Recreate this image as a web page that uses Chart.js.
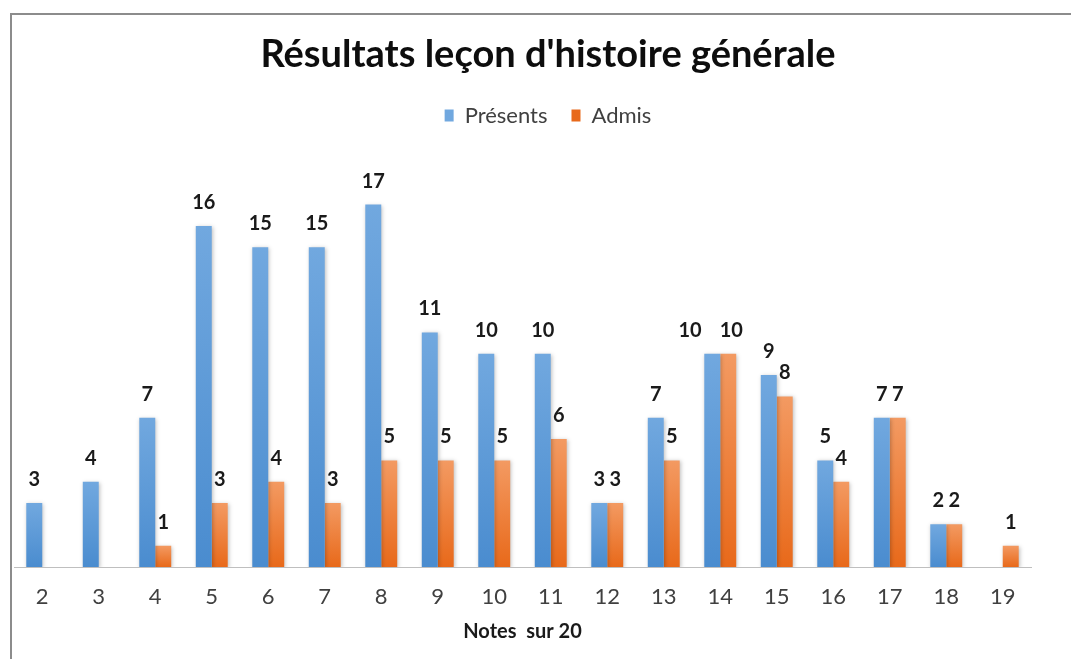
<!DOCTYPE html>
<html>
<head>
<meta charset="utf-8">
<script src="https://cdn.jsdelivr.net/npm/chart.js@4"></script>
<style>
  html, body { margin: 0; padding: 0; background: #fff; overflow: hidden; }
  #frame {
    position: absolute; left: 10px; top: 13px;
    width: 1090px; height: 646px;
    border-top: 2px solid #8c8c8c; border-left: 2px solid #8c8c8c;
    box-sizing: border-box;
  }
  #wrap { position: absolute; left: 0; top: 0; width: 1072px; height: 644px; }
</style>
</head>
<body>
<div id="frame"><div id="wrap"><canvas id="chart"></canvas></div></div>
<script>
// ---------- données ----------
const notes = ['2', '3', '4', '5', '6', '7', '8', '9', '10', '11', '12', '13', '14', '15', '16', '17', '18', '19'];
const presents = [3, 4, 7, 16, 15, 15, 17, 11, 10, 10, 3, 7, 10, 9, 5, 7, 2, null];
const admis = [null, null, 1, 3, 4, 3, 5, 5, 5, 6, 3, 5, 10, 8, 4, 7, 2, 1];

const FONT = 'Lato, "Open Sans", sans-serif';

// dégradé par barre (clair en haut, foncé en bas)
function barGradient(top, bottom) {
  return function (ctx) {
    const chart = ctx.chart;
    if (!chart.chartArea || ctx.raw == null) return bottom;
    const y = chart.scales.y;
    const y0 = y.getPixelForValue(ctx.raw);
    const y1 = y.getPixelForValue(0);
    const g = chart.ctx.createLinearGradient(0, y0, 0, y1);
    g.addColorStop(0, top);
    g.addColorStop(1, bottom);
    return g;
  };
}

// étiquettes de valeurs au-dessus des barres
const valueLabels = {
  id: 'valueLabels',
  afterDatasetsDraw(chart) {
    const ctx = chart.ctx;
    ctx.save();
    ctx.font = 'bold 20px ' + FONT;
    ctx.fillStyle = '#1a1a1a';
    ctx.textAlign = 'center';
    ctx.textBaseline = 'alphabetic';
    const m0 = chart.getDatasetMeta(0).data;
    const m1 = chart.getDatasetMeta(1).data;
    notes.forEach((n, j) => {
      const a = presents[j];
      const b = admis[j];
      let xa = m0[j].x;
      let xb = m1[j].x;
      // si les deux étiquettes se chevauchent vraiment, on les écarte
      if (a != null && b != null && Math.abs(m0[j].y - m1[j].y) < 18) {
        const wa = ctx.measureText(a).width;
        const wb = ctx.measureText(b).width;
        if (xb - xa < wa / 2 + wb / 2 + 2) {
          xb += 3;
          xa = xb - (wa / 2 + wb / 2 + 18);
        }
      }
      if (a != null) ctx.fillText(a, xa, m0[j].y - 17);
      if (b != null) ctx.fillText(b, xb, m1[j].y - 17);
    });
    ctx.restore();
  },
};

// légère ombre sous les barres
const barShadow = {
  id: 'barShadow',
  beforeDatasetsDraw(chart) {
    const ctx = chart.ctx;
    ctx.save();
    ctx.shadowColor = 'rgba(0,0,0,0.25)';
    ctx.shadowBlur = 4;
    ctx.shadowOffsetX = 1;
    ctx.shadowOffsetY = 1;
  },
  afterDatasetsDraw(chart) {
    chart.ctx.restore();
  },
};

// un peu plus d'espace sous la légende
const legendMargin = {
  id: 'legendMargin',
  beforeInit(chart) {
    const fit = chart.legend.fit;
    chart.legend.fit = function () {
      fit.call(this);
      this.height += 4;
    };
  },
};

const config = {
  type: 'bar',
  data: {
    labels: notes,
    datasets: [
      {
        label: 'Présents',
        data: presents,
        backgroundColor: barGradient('#71a8df', '#4a8ccf'),
        borderWidth: 0,
      },
      {
        label: 'Admis',
        data: admis,
        backgroundColor: barGradient('#f39a62', '#e8691a'),
        borderWidth: 0,
      },
    ],
  },
  options: {
    responsive: true,
    maintainAspectRatio: false,
    animation: false,
    layout: { padding: { left: 2, right: 2, top: 0, bottom: 0 } },
    datasets: {
      bar: { categoryPercentage: 0.565, barPercentage: 1 },
    },
    scales: {
      x: {
        grid: { display: false, drawTicks: false },
        border: { display: true, color: '#bfbfbf', width: 1 },
        ticks: { color: '#404040', font: { family: FONT, size: 22 }, padding: 17 },
        title: {
          display: true,
          text: 'Notes  sur 20',
          color: '#1a1a1a',
          font: { family: FONT, size: 20, weight: 'bold' },
          padding: { top: 10, bottom: 15 },
        },
        afterFit(scale) {
          scale.height = 92;
        },
      },
      // axe invisible à droite : réserve la marge blanche à droite du graphique
      y: {
        display: true,
        position: 'right',
        min: 0,
        max: 20,
        ticks: { display: false },
        grid: { display: false, drawTicks: false },
        border: { display: false },
        afterFit(scale) {
          scale.width = 51;
        },
      },
    },
    plugins: {
      title: {
        display: true,
        text: "Résultats leçon d'histoire générale",
        color: '#0d0d0d',
        font: { family: FONT, size: 38, weight: 'bold' },
        padding: { top: 17, bottom: 3 },
      },
      legend: {
        display: true,
        labels: {
          color: '#404040',
          font: { family: FONT, size: 22 },
          boxWidth: 9,
          boxHeight: 12,
          padding: 24,
        },
      },
      tooltip: { enabled: false },
    },
  },
  plugins: [barShadow, valueLabels, legendMargin],
};

new Chart(document.getElementById('chart'), config);
</script>
</body>
</html>
